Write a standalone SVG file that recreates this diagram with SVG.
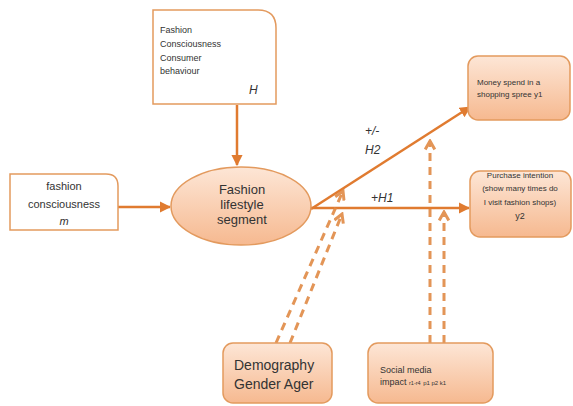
<svg xmlns="http://www.w3.org/2000/svg" width="573" height="406" viewBox="0 0 573 406">
<style>
.t{font-family:"Liberation Sans",Arial,sans-serif;fill:#333}
.wb{fill:#fff;stroke:#e39a5e;stroke-width:1.5}
.ob{fill:url(#g);stroke:#e39a5e;stroke-width:1.5}
.ln{stroke:#e07b30;stroke-width:2.5;fill:none}
.dl{stroke:#e08a45;stroke-width:3;fill:none;stroke-dasharray:8 6;opacity:0.9}
.ch{stroke:#e08a45;stroke-width:2.5;fill:none}
</style>
<defs>
<linearGradient id="g" x1="0" y1="0" x2="0" y2="1">
<stop offset="0" stop-color="#fde6d6"/>
<stop offset="1" stop-color="#f6b990"/>
</linearGradient>
<marker id="ah" viewBox="0 0 10 10" refX="9" refY="5" markerWidth="4.5" markerHeight="4.5" orient="auto">
<path d="M0,0 L10,5 L0,10 Z" fill="#e07b30"/>
</marker>
<marker id="oh" viewBox="0 0 10 10" refX="8" refY="5" markerWidth="4" markerHeight="4" orient="auto">
<path d="M1,1 L8,5 L1,9" fill="none" stroke="#e08a45" stroke-width="2.5"/>
</marker>
</defs>
<g id="connectors">
<line class="ln" x1="237" y1="105" x2="237" y2="165" marker-end="url(#ah)"/>
<line class="ln" x1="118" y1="207" x2="170" y2="207" marker-end="url(#ah)"/>
<line class="ln" x1="311" y1="209" x2="470" y2="107" marker-end="url(#ah)"/>
<line class="ln" x1="311" y1="208" x2="469" y2="208" marker-end="url(#ah)"/>
<line class="dl" x1="276" y1="343" x2="343" y2="191" marker-end="url(#oh)"/>
<line class="dl" x1="290" y1="343" x2="342" y2="214" marker-end="url(#oh)"/>
<line class="dl" x1="430" y1="343" x2="430" y2="141" marker-end="url(#oh)"/>
<line class="dl" x1="444" y1="343" x2="444" y2="212" marker-end="url(#oh)"/>
</g>
<g id="labels">
<text class="t" x="365" y="135" font-size="12" font-style="italic">+/-</text>
<text class="t" x="365" y="154" font-size="12" font-style="italic">H2</text>
<text class="t" x="371" y="202" font-size="12" font-style="italic">+H1</text>
</g>
<g id="top-box">
<path class="wb" d="M153,10 H258 Q276,10 276,28 V104 H153 Z"/>
<text class="t" x="160" y="33" font-size="9">Fashion</text>
<text class="t" x="160" y="47" font-size="9">Consciousness</text>
<text class="t" x="160" y="61" font-size="9">Consumer</text>
<text class="t" x="160" y="74" font-size="9">behaviour</text>
<text class="t" x="249" y="94" font-size="12" font-style="italic">H</text>
</g>
<g id="left-box">
<path class="wb" d="M10,174 H106 Q118,174 118,186 V230 H10 Z"/>
<text class="t" x="64" y="190" font-size="11" text-anchor="middle">fashion</text>
<text class="t" x="64" y="208" font-size="11" text-anchor="middle">consciousness</text>
<text class="t" x="64" y="225" font-size="11" font-style="italic" text-anchor="middle">m</text>
</g>
<g id="ellipse-node">
<ellipse class="ob" cx="241" cy="206" rx="70" ry="39"/>
<text class="t" x="242" y="194" font-size="13" text-anchor="middle">Fashion</text>
<text class="t" x="242" y="209" font-size="13" text-anchor="middle">lifestyle</text>
<text class="t" x="242" y="224" font-size="13" text-anchor="middle">segment</text>
</g>
<g id="money-box">
<rect class="ob" x="468" y="56" width="102" height="64" rx="10"/>
<text class="t" x="477" y="85" font-size="8">Money spend in a</text>
<text class="t" x="477" y="97" font-size="8">shopping  spree y1</text>
</g>
<g id="purchase-box">
<rect class="ob" x="470" y="171" width="101" height="66" rx="10"/>
<text class="t" x="520" y="178" font-size="8" text-anchor="middle">Purchase intention</text>
<text class="t" x="520" y="191" font-size="8" text-anchor="middle">(show many times do</text>
<text class="t" x="520" y="205" font-size="8" text-anchor="middle">I visit fashion shops)</text>
<text class="t" x="520" y="219" font-size="9" text-anchor="middle">y2</text>
</g>
<g id="demography-box">
<rect class="ob" x="223" y="343" width="109" height="60" rx="10"/>
<text class="t" x="234" y="370" font-size="14">Demography</text>
<text class="t" x="234" y="389" font-size="14">Gender Ager</text>
</g>
<g id="social-box">
<rect class="ob" x="368" y="343" width="125" height="60" rx="10"/>
<text class="t" x="380" y="373" font-size="9">Social media</text>
<text class="t" x="380" y="385" font-size="9">impact <tspan font-size="5.5">r1-r4</tspan> <tspan font-size="6">p1 p2 k1</tspan></text>
</g>
</svg>
